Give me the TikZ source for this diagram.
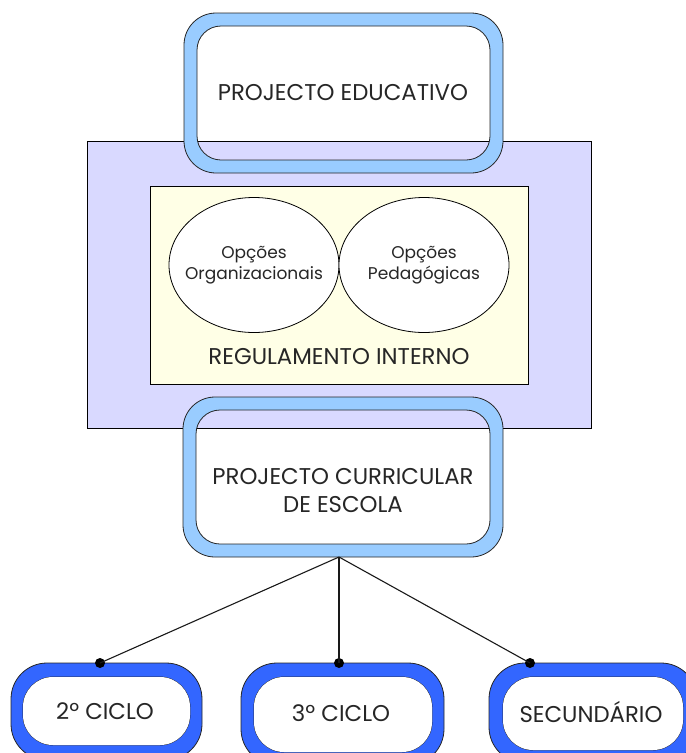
\documentclass[tikz,border=0pt]{standalone}
\usepackage{fontspec}
\setmainfont{Poppins}
\usetikzlibrary{shapes.geometric}
\definecolor{paleblue}{RGB}{153,204,255}
\definecolor{deepblue}{RGB}{51,102,255}
\definecolor{lavender}{RGB}{217,217,255}
\definecolor{cream}{RGB}{255,255,230}
\begin{document}
\begin{tikzpicture}[x=1pt,y=-1pt]
        \tikzstyle{ring}=[draw=black!85,line width=0.8pt,even odd rule]
        \tikzstyle{big}=[font=\fontsize{22.8}{28}\selectfont,align=center,text=black!85]
        \tikzstyle{small}=[font=\fontsize{17}{21}\selectfont,align=center,text=black!85]
        \tikzstyle{option}=[ellipse,draw=black,line width=0.8pt,fill=white,minimum width=170pt,minimum height=135pt,inner xsep=-16pt,inner ysep=0pt]
        \tikzstyle{dot}=[circle,fill=black,inner sep=0pt,minimum size=10pt]
        \tikzstyle{edge}=[draw,line width=1.1pt,black!90]
        \useasboundingbox (0,0) rectangle (686,753);
        % white insides of the two upper frames
        \fill[white,rounded corners=24pt] (197,26) rectangle (490,160);
        \fill[white,rounded corners=24pt] (196,410) rectangle (490,544);
        % outer and inner panels
        \draw[fill=lavender,line width=0.8pt] (87,141) rectangle (591,428);
        \draw[fill=cream,line width=0.8pt] (150,186) rectangle (528,384);
        \node [option,small] (org) at (254,265) {Opções\\Organizacionais};
        \node [option,small] (ped) at (424,265) {Opções\\Pedagógicas};
        \node [big] (reg) at (339,357) {REGULAMENTO INTERNO};
        % frames
        \path[ring,fill=paleblue] (184,13) [rounded corners=32pt] rectangle (503,173)
              (197,26) [rounded corners=24pt] rectangle (490,160);
        \path[ring,fill=paleblue] (183,397) [rounded corners=32pt] rectangle (503,557)
              (196,410) [rounded corners=24pt] rectangle (490,544);
        \node [big] (edu) at (343,93) {PROJECTO EDUCATIVO};
        \node [big] (curr) at (343,491) {PROJECTO CURRICULAR\\DE ESCOLA};
        % lower frames
        \path[ring,fill=deepblue] (11,663) [rounded corners=36pt] rectangle (202,760)
              (23,677) [rounded corners=30pt] rectangle (190,745);
        \path[ring,fill=deepblue] (241,663) [rounded corners=36pt] rectangle (444,765)
              (254,677) [rounded corners=30pt] rectangle (432,752);
        \path[ring,fill=deepblue] (489,663) [rounded corners=36pt] rectangle (697,763)
              (503,677) [rounded corners=30pt] rectangle (683,750);
        \fill[white,rounded corners=30pt] (23,677) rectangle (190,745);
        \fill[white,rounded corners=30pt] (254,677) rectangle (432,752);
        \fill[white,rounded corners=30pt] (503,677) rectangle (683,750);
        \node [big] (ciclo2) at (105,711) {2º CICLO};
        \node [big] (ciclo3) at (341,713) {3º CICLO};
        \node [big] (sec) at (591,712) {SECUNDÁRIO};
        % links
        \coordinate (hub) at (339,557);
        \node [dot] (d2) at (100,663) {};
        \node [dot] (d3) at (339,663) {};
        \node [dot] (ds) at (530,663) {};
        \path[edge] (hub) -- (d2.center);
        \path[edge] (hub) -- (d3.center);
        \path[edge] (hub) -- (ds.center);
\end{tikzpicture}
\end{document}
